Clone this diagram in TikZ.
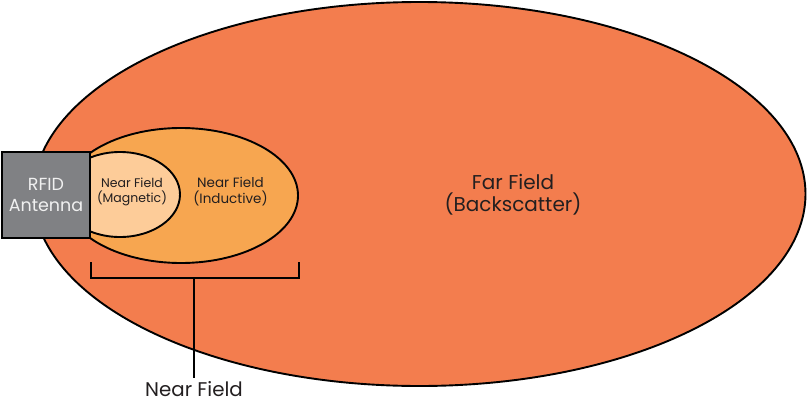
\documentclass[tikz,border=0pt]{standalone}
\usepackage{fontspec}
\setmainfont{Poppins}
\usetikzlibrary{shapes.geometric}
\definecolor{farc}{HTML}{F37D4E}
\definecolor{midc}{HTML}{F7A650}
\definecolor{innc}{HTML}{FDCC99}
\definecolor{boxc}{HTML}{808184}
\definecolor{txt}{HTML}{231F20}
\begin{document}
\begin{tikzpicture}[x=1pt,y=-1pt,
  field/.style={ellipse, draw=black, line width=1.9pt, inner sep=0pt},
  lbl/.style={align=center, text=txt, inner sep=0pt},
  bracket/.style={draw=black, line width=1.9pt},
]
\useasboundingbox (0,0) rectangle (807,402);
\node[field, fill=farc, minimum width=772pt, minimum height=384pt] (far) at (419.5,194) {};
\node[field, fill=midc, minimum width=234pt, minimum height=135pt] (mid) at (181,195.5) {};
\node[field, fill=innc, minimum width=120pt, minimum height=85pt] (inn) at (120,194.5) {};
\node[draw=black, line width=1.9pt, fill=boxc, minimum width=88pt, minimum height=86pt,
      inner sep=0pt, align=center, text=white!94!black, font=\fontsize{17.5}{21}\selectfont] (ant) at (46,195) {RFID\\Antenna};
\node[lbl, font=\fontsize{20}{22}\selectfont] (farlbl) at (513,195) {Far Field\\(Backscatter)};
\node[lbl, font=\fontsize{13.5}{16}\selectfont] (midlbl) at (230.5,191.5) {Near Field\\(Inductive)};
\node[lbl, font=\fontsize{12.5}{15}\selectfont] (innlbl) at (132,192) {Near Field\\(Magnetic)};
\coordinate (bl) at (91,262);
\coordinate (br) at (299,262);
\coordinate (bm) at (194,278);
\node[lbl, inner sep=3pt, anchor=north, font=\fontsize{19.8}{22}\selectfont] (nf) at (194,378) {Near Field};
\draw[bracket] (bl) -- ++(0,16) -| (br);
\draw[bracket] (bm) -- (nf.north);
\end{tikzpicture}
\end{document}
